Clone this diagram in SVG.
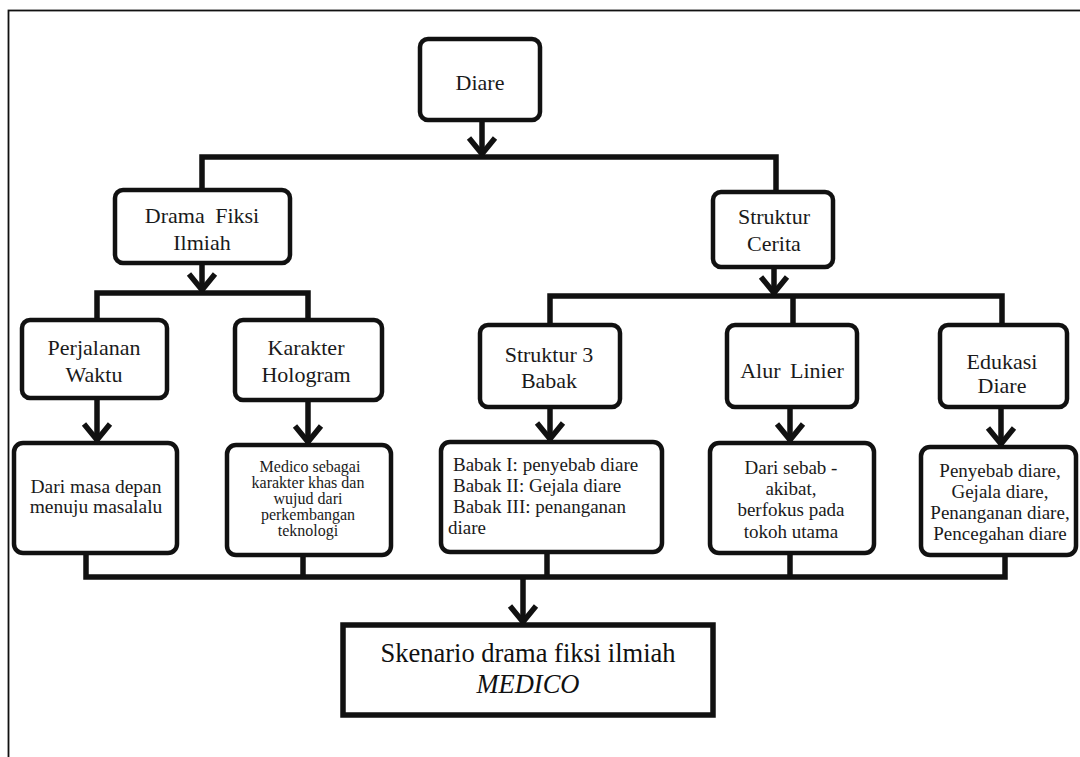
<svg xmlns="http://www.w3.org/2000/svg" width="1080" height="757" viewBox="0 0 1080 757" font-family="'Liberation Serif', 'DejaVu Serif', serif">
<style>
  .box { fill: #ffffff; stroke: #111111; stroke-width: 4.5; }
  .conn { fill: none; stroke: #111111; stroke-width: 5.5; stroke-linejoin: miter; stroke-linecap: butt; }
  text { font-family: 'Liberation Serif', 'DejaVu Serif', serif; fill: #1a1a1a; text-anchor: middle; }
  .t22 { font-size: 22px; }
  .t20 { font-size: 19.5px; }
  .t19 { font-size: 19px; }
  .t19l { font-size: 19px; text-anchor: start; }
  .t16 { font-size: 16px; }
  .t27 { font-size: 26.5px; fill: #111111; }
</style>
<defs>
  <marker id="arr" markerUnits="userSpaceOnUse" markerWidth="40" markerHeight="40" refX="0" refY="0" orient="auto" overflow="visible">
    <path d="M -19 -13 L -3 0 L -19 13" fill="none" stroke="#111111" stroke-width="5.5" stroke-linejoin="miter"/>
  </marker>
</defs>
<rect x="0" y="0" width="1080" height="757" fill="#ffffff"/>
<rect id="frame" x="8.5" y="10.5" width="1100" height="800" fill="none" stroke="#111111" stroke-width="1.8"/>

<g id="connectors">
  <line class="conn" x1="482" y1="120" x2="482" y2="157" marker-end="url(#arr)"/>
  <polyline class="conn" points="202,190 202,157 776,157 776,192"/>
  <line class="conn" x1="202" y1="263" x2="202" y2="293" marker-end="url(#arr)"/>
  <polyline class="conn" points="97,320 97,293 308,293 308,320"/>
  <line class="conn" x1="774" y1="267" x2="774" y2="296" marker-end="url(#arr)"/>
  <polyline class="conn" points="550,325 550,296 1002,296 1002,325"/>
  <line class="conn" x1="793" y1="296" x2="793" y2="325"/>
  <line class="conn" x1="97" y1="398" x2="97" y2="443" marker-end="url(#arr)"/>
  <line class="conn" x1="308" y1="400" x2="308" y2="445" marker-end="url(#arr)"/>
  <line class="conn" x1="550" y1="407" x2="550" y2="442" marker-end="url(#arr)"/>
  <line class="conn" x1="790" y1="407" x2="790" y2="443" marker-end="url(#arr)"/>
  <line class="conn" x1="1001" y1="407" x2="1001" y2="447" marker-end="url(#arr)"/>
  <polyline class="conn" points="86,553 86,577 1005,577 1005,555"/>
  <line class="conn" x1="303" y1="555" x2="303" y2="577"/>
  <line class="conn" x1="547" y1="552" x2="547" y2="577"/>
  <line class="conn" x1="790" y1="553" x2="790" y2="577"/>
  <line class="conn" x1="523" y1="577" x2="523" y2="625" marker-end="url(#arr)"/>
</g>

<g id="node-diare">
  <rect class="box" x="420" y="39" width="120" height="81" rx="8"/>
  <text class="t22" x="480" y="90">Diare</text>
</g>
<g id="node-drama">
  <rect class="box" x="115" y="190" width="175" height="73" rx="8"/>
  <text class="t22" x="202" y="223" word-spacing="5">Drama Fiksi</text>
  <text class="t22" x="202" y="250">Ilmiah</text>
</g>
<g id="node-struktur-cerita">
  <rect class="box" x="713" y="192" width="120" height="75" rx="8"/>
  <text class="t22" x="774" y="224">Struktur</text>
  <text class="t22" x="774" y="251">Cerita</text>
</g>
<g id="node-perjalanan">
  <rect class="box" x="22" y="320" width="145" height="78" rx="8"/>
  <text class="t22" x="94" y="355">Perjalanan</text>
  <text class="t22" x="94" y="382">Waktu</text>
</g>
<g id="node-karakter">
  <rect class="box" x="235" y="320" width="147" height="80" rx="8"/>
  <text class="t22" x="306" y="355">Karakter</text>
  <text class="t22" x="306" y="382">Hologram</text>
</g>
<g id="node-struktur3">
  <rect class="box" x="480" y="325" width="140" height="82" rx="8"/>
  <text class="t22" x="549" y="362">Struktur 3</text>
  <text class="t22" x="549" y="388">Babak</text>
</g>
<g id="node-alur">
  <rect class="box" x="727" y="325" width="130" height="82" rx="8"/>
  <text class="t22" x="792" y="378" word-spacing="4">Alur Linier</text>
</g>
<g id="node-edukasi">
  <rect class="box" x="940" y="325" width="127" height="82" rx="8"/>
  <text class="t22" x="1002" y="369">Edukasi</text>
  <text class="t22" x="1002" y="393">Diare</text>
</g>

<g id="node-dari-masa">
  <rect class="box" x="14" y="443" width="163" height="110" rx="9"/>
  <text class="t20" x="96" y="493">Dari masa depan</text>
  <text class="t20" x="96" y="513">menuju masalalu</text>
</g>
<g id="node-medico">
  <rect class="box" x="227" y="445" width="164" height="110" rx="9"/>
  <text class="t16" x="310" y="472">Medico sebagai</text>
  <text class="t16" x="308" y="488">karakter khas dan</text>
  <text class="t16" x="308" y="504">wujud dari</text>
  <text class="t16" x="308" y="520">perkembangan</text>
  <text class="t16" x="308" y="536">teknologi</text>
</g>
<g id="node-babak">
  <rect class="box" x="441" y="442" width="221" height="110" rx="9"/>
  <text class="t19l" x="453" y="471">Babak I: penyebab diare</text>
  <text class="t19l" x="453" y="492">Babak II: Gejala diare</text>
  <text class="t19l" x="453" y="513">Babak III: penanganan</text>
  <text class="t19l" x="448" y="534">diare</text>
</g>
<g id="node-sebab">
  <rect class="box" x="710" y="443" width="164" height="110" rx="9"/>
  <text class="t19" x="791" y="474">Dari sebab -</text>
  <text class="t19" x="791" y="495">akibat,</text>
  <text class="t19" x="791" y="516">berfokus pada</text>
  <text class="t19" x="791" y="538">tokoh utama</text>
</g>
<g id="node-penyebab">
  <rect class="box" x="921" y="447" width="155" height="108" rx="9"/>
  <text class="t19" x="1000" y="477">Penyebab diare,</text>
  <text class="t19" x="1000" y="498">Gejala diare,</text>
  <text class="t19" x="1000" y="519">Penanganan diare,</text>
  <text class="t19" x="1000" y="540">Pencegahan diare</text>
</g>

<g id="node-skenario">
  <rect x="343" y="625" width="370" height="90" fill="#ffffff" stroke="#111111" stroke-width="5.5"/>
  <text class="t27" x="528" y="662">Skenario drama fiksi ilmiah</text>
  <text class="t27" x="528" y="693" font-style="italic">MEDICO</text>
</g>
</svg>
